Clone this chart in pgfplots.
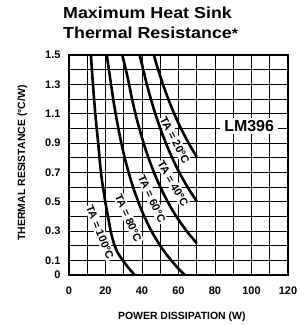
\documentclass[border=0pt]{standalone}
\usepackage{pgfplots}
\pgfplotsset{compat=1.18}
\usepackage{graphicx}
\usepackage{fontspec}
\setmainfont{Liberation Sans}
\tikzset{lbl/.style={fill=white, inner xsep=1bp, inner ysep=1.5bp, font=\bfseries\fontsize{11}{11}\selectfont}}
\begin{document}
\begin{tikzpicture}
\useasboundingbox (-69bp,-50bp) rectangle (232bp,275bp);
\begin{axis}[
  at={(0,0)}, anchor=south west,
  scale only axis, width=219bp, height=220bp,
  xmin=0, xmax=120, ymin=0, ymax=1.5,
  xtick={0,20,40,60,80,100,120}, xticklabels={0,20,40,60,80,100,120},
  ytick={0,0.1,0.3,0.5,0.7,0.9,1.1,1.3,1.5},
  yticklabels={0,0.1,0.3,0.5,0.7,0.9,1.1,1.3,1.5},
  minor xtick={10,30,50,70,90,110},
  minor ytick={0.2,0.4,0.6,0.8,1.0,1.2,1.4},
  grid=both,
  major grid style={black, line width=0.9bp},
  minor grid style={black, line width=0.9bp},
  major tick length=0pt, minor tick length=0pt,
  axis line style={line width=1.6bp},
  tick label style={font=\bfseries\fontsize{11}{12}\selectfont},
  xticklabel style={yshift=-8.5bp},
  yticklabel style={xshift=-5bp},
  xlabel={POWER DISSIPATION (W)},
  ylabel={THERMAL RESISTANCE (°C/W)},
  xlabel style={at={(axis description cs:0.515,0)}, anchor=base, yshift=-44bp, font=\bfseries\fontsize{10.5}{12}\selectfont},
  ylabel style={at={(axis description cs:-0.2,0.509)}, anchor=base, font=\bfseries\fontsize{10.5}{12}\selectfont},
]
\node[lbl, rotate=-62] at (axis cs:58.0,0.918) {TA = 20°C};
\node[lbl, rotate=-60] at (axis cs:57.0,0.622) {TA = 40°C};
\node[lbl, rotate=-65] at (axis cs:45.4,0.52) {TA = 60°C};
\node[lbl, rotate=-66] at (axis cs:32.5,0.39) {TA = 80°C};
\node[lbl, rotate=-68] at (axis cs:17.0,0.29) {TA = 100°C};
\node[fill=white, font=\bfseries\fontsize{16}{16}\selectfont, inner xsep=4bp, inner ysep=2bp] at (axis cs:98.7,1.016) {LM396};
% Ta = 20 C
\addplot[line width=2.6bp, smooth] coordinates {
 (46.5,1.5) (48,1.435) (50,1.355) (52,1.281) (55,1.18) (58,1.09) (61,1.008) (64,0.935) (67,0.867) (70,0.806)};
% Ta = 40 C
\addplot[line width=2.6bp, smooth] coordinates {
 (38.7,1.5) (40,1.435) (43,1.283) (46,1.151) (50,1.0) (54,0.871) (58,0.76) (62,0.663) (66,0.578) (70,0.503)};
% Ta = 60 C
\addplot[line width=2.6bp, smooth] coordinates {
 (29.2,1.5) (32,1.354) (35,1.174) (38,1.023) (42,0.855) (46,0.717) (50,0.60) (55,0.478) (60,0.377) (65,0.291) (70,0.217)};
% Ta = 80 C
\addplot[line width=2.6bp, smooth] coordinates {
 (20.7,1.5) (23,1.303) (25,1.14) (28,0.939) (31,0.776) (35,0.603) (40,0.435) (45,0.304) (50,0.20) (55,0.115) (60,0.043) (63.5,0)};
% Ta = 100 C
\addplot[line width=2.6bp, smooth] coordinates {
 (12,1.5) (13,1.32) (14,1.16) (15,1.02) (16,0.9) (17,0.76) (18,0.65) (19,0.57) (20,0.49) (21.5,0.39) (23,0.29) (25,0.2) (27,0.145) (29.5,0.1) (32.5,0.05) (36,0)};
\end{axis}
\node[anchor=base west, inner sep=0, font=\bfseries\fontsize{16}{18}\selectfont] at (-6bp,256.5bp) {\scalebox{1.12}[1]{Maximum Heat Sink}};
\node[anchor=base west, inner sep=0, font=\bfseries\fontsize{16}{18}\selectfont] at (-6bp,236bp) {\scalebox{1.12}[1]{Thermal Resistance{\fontsize{14}{14}\selectfont *}}};
\end{tikzpicture}
\end{document}
